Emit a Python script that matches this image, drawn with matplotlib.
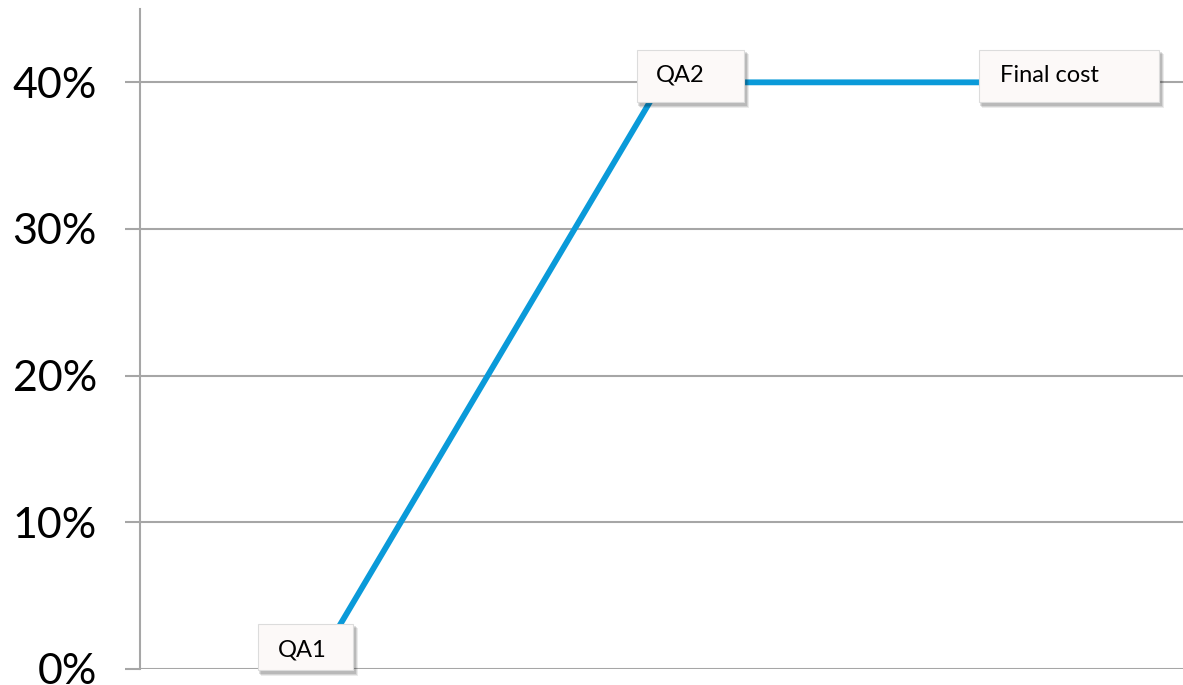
import matplotlib
matplotlib.use("Agg")
import matplotlib.pyplot as plt
from matplotlib.patches import Rectangle
from matplotlib.transforms import IdentityTransform
from matplotlib.ticker import FuncFormatter

categories = ["QA1", "QA2", "Final cost"]
values = [0.0, 0.40, 0.40]
y_ticks = [0.0, 0.10, 0.20, 0.30, 0.40]

# label box geometry in pixels relative to the data point (x0, x1, y0, y1), text offset
box_geom = [(-56, 39, -1, 45), (-25, 82, -20, 32), (-30, 150, -20, 32)]
text_off = [(-36, 19), (-6, 7), (-9, 7)]

fig = plt.figure(figsize=(11.83, 6.85), dpi=100)
ax = fig.add_axes([140 / 1183, 16 / 685, 1 - 140 / 1183, 1 - 25 / 685])
ax.set_xlim(-0.5, 2.5)
ax.set_ylim(0, 0.45)

grid_c = "#a6a6a6"
ax.set_yticks(y_ticks)
ax.yaxis.set_major_formatter(FuncFormatter(lambda v, p: f"{v*100:.0f}%"))
ax.yaxis.grid(True, color=grid_c, linewidth=1.5)
ax.set_axisbelow(True)
ax.tick_params(axis="y", length=11, width=1.5, color=grid_c, pad=20,
               labelsize=31, labelcolor="black")
for lab in ax.get_yticklabels():
    lab.set_family("Lato")
ax.set_xticks([])
for s in ["top", "right", "bottom"]:
    ax.spines[s].set_visible(False)
ax.spines["left"].set_color(grid_c)
ax.spines["left"].set_linewidth(1.5)

x = list(range(len(categories)))
ax.plot(x, values, color="#0a9ad9", linewidth=4.2, solid_capstyle="butt", zorder=3)

fig.canvas.draw()
for i, (cat, v) in enumerate(zip(categories, values)):
    px, py = ax.transData.transform((x[i], v))
    x0, x1, y0, y1 = box_geom[i]
    for ox, oy, a in [(4, -5, 0.08), (3, -4, 0.10), (2, -3, 0.12)]:
        fig.add_artist(Rectangle((px + x0 + ox - 1, py + y0 + oy - 1),
                                 x1 - x0 + 2, y1 - y0 + 2,
                                 transform=IdentityTransform(), facecolor="#000000",
                                 edgecolor="none", alpha=a, zorder=4))
    fig.add_artist(Rectangle((px + x0, py + y0), x1 - x0, y1 - y0,
                             transform=IdentityTransform(), facecolor="#fcf9f8",
                             edgecolor="#dcdcdc", linewidth=0.8, zorder=5))
    tx, ty = text_off[i]
    fig.text((px + tx) / fig.bbox.width, (py + ty) / fig.bbox.height, cat,
             fontsize=17, family="Lato", ha="left", va="center", color="black",
             zorder=6)

fig.savefig("out.png", dpi=100)
